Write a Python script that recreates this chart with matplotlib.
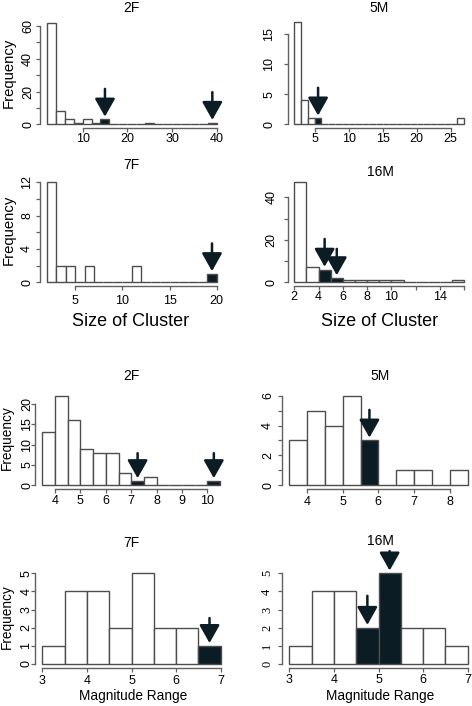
import matplotlib
matplotlib.use('Agg')
import matplotlib.pyplot as plt
import numpy as np

plt.rcParams['font.family'] = ['Liberation Sans', 'DejaVu Sans']

W, H = 472, 706
DARK = '#0b1c24'
EDGE = '#4d4d4d'
AXC = '#606060'

# ---- data: histograms ----
# cluster size
size_2F_start, size_2F_width = 2, 2
size_2F_counts = [62, 8, 3, 1, 3, 1, 3, 0, 0, 0, 0, 1, 0, 0, 0, 0, 0, 0, 1]
size_2F_marked = [6, 18]

size_5M_start, size_5M_width = 2, 1
size_5M_counts = [17, 4, 1, 1] + [0] * 20 + [1]
size_5M_marked = [3]

size_7F_start, size_7F_width = 2, 1
size_7F_counts = [12, 2, 2, 0, 2, 0, 0, 0, 0, 2, 0, 0, 0, 0, 0, 0, 0, 1]
size_7F_marked = [17]

size_16M_start, size_16M_width = 2, 1
size_16M_counts = [47, 7, 6, 2, 1, 1, 1, 1, 1, 0, 0, 0, 0, 1]
size_16M_marked = [2, 3]

# magnitude range
mag_2F_start, mag_2F_width = 3.5, 0.5
mag_2F_counts = [13, 22, 16, 9, 8, 8, 3, 1, 2, 0, 0, 0, 0, 1]
mag_2F_marked = [7, 13]

mag_5M_start, mag_5M_width = 3.5, 0.5
mag_5M_counts = [3, 5, 4, 6, 3, 0, 1, 1, 0, 1]
mag_5M_marked = [4]

mag_7F_start, mag_7F_width = 3, 0.5
mag_7F_counts = [1, 4, 4, 2, 5, 2, 2, 1]
mag_7F_marked = [7]

mag_16M_start, mag_16M_width = 3, 0.5
mag_16M_counts = [1, 4, 4, 2, 5, 2, 2, 1]
mag_16M_marked = [3, 4]

titles = ['2F', '5M', '7F', '16M', '2F', '5M', '7F', '16M']


def labels_every(ticks, step):
    return [str(t) if i % step == 0 else '' for i, t in enumerate(ticks)]


fig = plt.figure(figsize=(W / 100, H / 100), dpi=100)


def draw_hist(box, start, width, counts, marked, xticks, xlabels, yticks, ylabels,
              xpad, ypad, title_xy, arrow_len=22, yfont=None):
    l, t, r, b = box
    ax = fig.add_axes([l / W, 1 - b / H, (r - l) / W, (b - t) / H])
    n = len(counts)
    lefts = start + width * np.arange(n)
    colors = [DARK if i in marked else 'white' for i in range(n)]
    ax.bar(lefts, counts, width=width, align='edge', color=colors,
           edgecolor=EDGE, linewidth=1.0, zorder=2)
    lo, hi = start, start + width * n
    ext = 0.04 * (hi - lo)
    ax.set_xlim(lo - ext, hi + ext)
    top = max(counts)
    ax.set_ylim(-0.04 * top, 1.04 * top)

    for s in ['top', 'right']:
        ax.spines[s].set_visible(False)
    for s in ['left', 'bottom']:
        ax.spines[s].set_color(AXC)
        ax.spines[s].set_linewidth(1.0)
    ax.spines['left'].set_bounds(0, yticks[-1])
    ax.spines['bottom'].set_bounds(xticks[0], xticks[-1])

    ax.set_xticks(xticks)
    ax.set_xticklabels(xlabels)
    ax.set_yticks(yticks)
    ax.set_yticklabels(ylabels, rotation=90, va='center')
    ax.tick_params(length=3, width=0.9, color=AXC, labelsize=9)
    ax.tick_params(axis='x', pad=xpad)
    ax.tick_params(axis='y', pad=ypad)
    if yfont:
        for lab in ax.get_yticklabels():
            lab.set_family(yfont)

    for k, i in enumerate(marked):
        L = arrow_len[k] if isinstance(arrow_len, list) else arrow_len
        ax.annotate('', xy=(lefts[i] + width / 2, counts[i]), xytext=(0, L),
                    textcoords='offset points', zorder=3,
                    arrowprops=dict(arrowstyle='-|>,head_length=0.55,head_width=0.31',
                                    mutation_scale=20, lw=1.8, color=DARK,
                                    shrinkA=0, shrinkB=2))
    fig.text(title_xy[0] / W, 1 - title_xy[1] / H, titles.pop(0),
             ha='center', va='center', fontsize=10)
    return ax


t1 = list(range(0, 61, 10))
draw_hist((40, 18.6, 223.6, 128.4), size_2F_start, size_2F_width, size_2F_counts,
          size_2F_marked, [10, 20, 30, 40], ['10', '20', '30', '40'],
          t1, labels_every(t1, 2), 0, 1.3, (131.7, 8.3))

t2 = [0, 5, 10, 15]
draw_hist((287.5, 18.3, 471, 128.4), size_5M_start, size_5M_width, size_5M_counts,
          size_5M_marked, [5, 10, 15, 20, 25], ['5', '10', '15', '20', '25'],
          t2, [str(v) for v in t2], 0.6, 5.9, (379.3, 8.3))

t3 = list(range(0, 13, 2))
draw_hist((40, 178.3, 223.5, 286.3), size_7F_start, size_7F_width, size_7F_counts,
          size_7F_marked, [5, 10, 15, 20], ['5', '10', '15', '20'],
          t3, labels_every(t3, 2), 3.6, 2.0, (131.7, 165))

t4 = list(range(0, 41, 10))
x4 = list(range(2, 17, 2))
draw_hist((287.5, 178.4, 471, 286.3), size_16M_start, size_16M_width, size_16M_counts,
          size_16M_marked, x4, ['2', '4', '6', '8', '10', '', '14', ''],
          t4, labels_every(t4, 2), 0.6, 4.0, (380, 172.3), arrow_len=[22, 21])

t5 = list(range(0, 21, 5))
draw_hist((35.2, 392.3, 227.3, 488.6), mag_2F_start, mag_2F_width, mag_2F_counts,
          mag_2F_marked, list(range(4, 11)), [str(v) for v in range(4, 11)],
          t5, [str(v) for v in t5], 1.7, -1.8, (131.7, 375.7), arrow_len=20)

t6 = list(range(0, 7))
draw_hist((282, 392.2, 474.7, 488.6), mag_5M_start, mag_5M_width, mag_5M_counts,
          mag_5M_marked, list(range(4, 9)), [str(v) for v in range(4, 9)],
          t6, labels_every(t6, 2), 2.0, 2.7, (380, 375.7))

t7 = list(range(0, 6))
draw_hist((35.2, 569.7, 227.8, 667.6), mag_7F_start, mag_7F_width, mag_7F_counts,
          mag_7F_marked, list(range(3, 8)), [str(v) for v in range(3, 8)],
          t7, [str(v) for v in t7], 2.4, -0.9, (131, 543.3), arrow_len=20)

draw_hist((282.2, 569.7, 474.8, 667.6), mag_16M_start, mag_16M_width, mag_16M_counts,
          mag_16M_marked, list(range(3, 8)), [str(v) for v in range(3, 8)],
          t7, [str(v) for v in t7], 1.8, 3.5, (380, 540.7), arrow_len=[23, 16],
          yfont='Liberation Serif')

# axis titles
for x, y, fs in [(8.3, 73, 10.7), (8.3, 230, 10.7), (6.7, 438, 9.8), (6.7, 616.7, 9.8)]:
    fig.text(x / W, 1 - y / H, 'Frequency', rotation=90, ha='center', va='center',
             fontsize=fs)
for x in [131, 380]:
    fig.text(x / W, 1 - 321 / H, 'Size of Cluster', ha='center', va='center', fontsize=13)
for x in [133, 380]:
    fig.text(x / W, 1 - 696 / H, 'Magnitude Range', ha='center', va='center', fontsize=9.8)

fig.savefig('out.png', dpi=100)
